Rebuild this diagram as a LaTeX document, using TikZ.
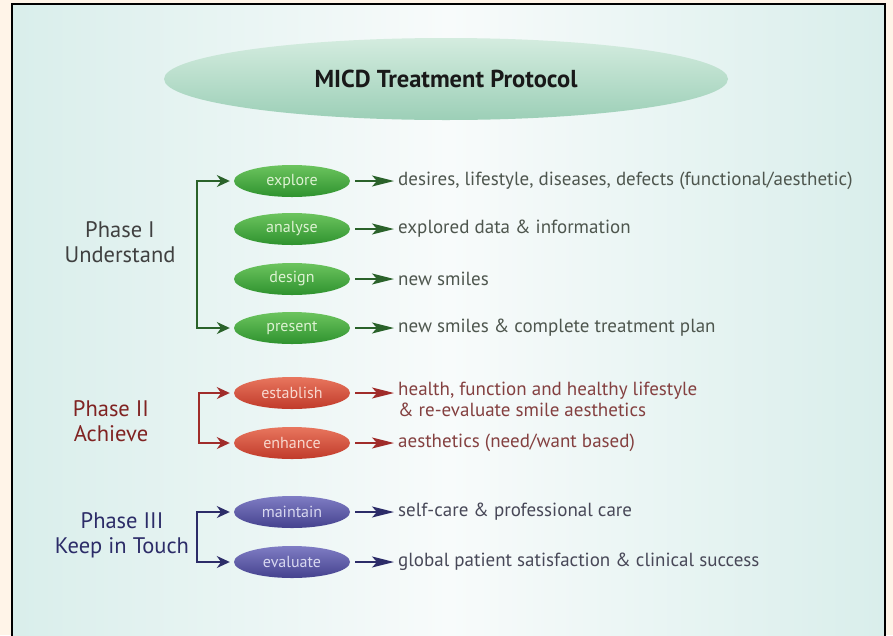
\documentclass[tikz,border=0pt]{standalone}
\usepackage{fontspec}
\setmainfont{PT Sans}
\usetikzlibrary{shapes.geometric,arrows.meta,positioning}

\definecolor{cream}{HTML}{FFF4E8}
\definecolor{panelteal}{HTML}{D9EEEB}
\definecolor{panelwhite}{HTML}{F8FBFB}
\definecolor{titletop}{HTML}{D4ECDF}
\definecolor{titlebot}{HTML}{9CCFB7}
\definecolor{greentop}{HTML}{6CC45E}
\definecolor{greenbot}{HTML}{2E922E}
\definecolor{greentext}{HTML}{DDF2D2}
\definecolor{greenline}{HTML}{2A622A}
\definecolor{greendesc}{HTML}{4E564E}
\definecolor{redtop}{HTML}{E8765E}
\definecolor{redbot}{HTML}{C03A2A}
\definecolor{redtext}{HTML}{F8D8CE}
\definecolor{redline}{HTML}{A02C2A}
\definecolor{reddesc}{HTML}{844040}
\definecolor{bluetop}{HTML}{7F7DC4}
\definecolor{bluebot}{HTML}{45428E}
\definecolor{bluetext}{HTML}{D8D8F0}
\definecolor{blueline}{HTML}{2C2C68}
\definecolor{bluedesc}{HTML}{484858}

\tikzset{
  stepnode/.style={ellipse, minimum width=116pt, minimum height=32pt, inner sep=0pt,
    font=\fontsize{16}{18}\selectfont},
  greenstep/.style={stepnode, top color=greentop, bottom color=greenbot, text=greentext},
  redstep/.style={stepnode, top color=redtop, bottom color=redbot, text=redtext},
  bluestep/.style={stepnode, top color=bluetop, bottom color=bluebot, text=bluetext},
  desc/.style={anchor=west, inner sep=0pt, align=left, font=\fontsize{19}{21}\selectfont},
  phase/.style={align=center, font=\fontsize{22.5}{25}\selectfont},
  outarrow/.style={-{Stealth[length=22pt,width=11pt,inset=5pt]}, line width=1.6pt,
    shorten <=5pt, shorten >=4pt},
  bracket/.style={{Stealth[length=13pt,width=12pt]}-{Stealth[length=13pt,width=12pt]},
    line width=1.5pt, shorten <=4pt, shorten >=4pt}
}

\begin{document}
\begin{tikzpicture}[x=1pt, y=-1pt]
  \useasboundingbox (0,0) rectangle (893,635);

  % Background and panel
  \fill[cream] (0,0) rectangle (893,635);
  \shade[left color=panelteal, right color=panelteal, middle color=panelwhite]
    (12,4) rectangle (885,640);
  \draw[line width=1.5pt] (12,640) -- (12,4) -- (885,4) -- (885,640);

  % Title
  \node[ellipse, minimum width=564pt, minimum height=82pt, inner sep=0pt,
    top color=titletop, bottom color=titlebot, text=black!90,
    font=\fontsize{24.5}{30}\selectfont\bfseries] (title) at (446,79) {MICD Treatment Protocol};

  % Phase I
  \node[phase, text=black!75] (phase1) at (120,242) {Phase I\\Understand};
  \node[greenstep] (explore) at (292,181) {explore};
  \node[greenstep] (analyse) at (292,229) {analyse};
  \node[greenstep] (design) at (292,279) {design};
  \node[greenstep] (present) at (292,328) {present};
  \draw[bracket, greenline] (explore.west) -- ++(-37,0) |- (present.west);

  \node[desc, text=greendesc] (explore-txt) at (398,181) {desires, lifestyle, diseases, defects (functional/aesthetic)};
  \node[desc, text=greendesc] (analyse-txt) at (398,229) {explored data \& information};
  \node[desc, text=greendesc] (design-txt) at (398,279) {new smiles};
  \node[desc, text=greendesc] (present-txt) at (398,328) {new smiles \& complete treatment plan};
  \foreach \s in {explore,analyse,design,present}
    \draw[outarrow, greenline] (\s.east) -- (\s-txt.west);

  % Phase II
  \node[phase, text=redline!80!black] (phase2) at (111,421) {Phase II\\Achieve};
  \node[redstep] (establish) at (292,393) {establish};
  \node[redstep] (enhance) at (292,443) {enhance};
  \draw[bracket, redline] (establish.west) -- ++(-35,0) |- (enhance.west);

  \node[desc, text=reddesc, anchor=north west] (establish-txt) at (398,382) {health, function and healthy lifestyle\\\& re-evaluate smile aesthetics};
  \node[desc, text=reddesc] (enhance-txt) at (398,443) {aesthetics (need/want based)};
  \draw[outarrow, redline] (establish.east) -- (establish -| establish-txt.west);
  \draw[outarrow, redline] (enhance.east) -- (enhance-txt.west);

  % Phase III
  \node[phase, text=blueline] (phase3) at (122,535) {Phase III\\Keep in Touch};
  \node[bluestep] (maintain) at (292,512) {maintain};
  \node[bluestep] (evaluate) at (292,562) {evaluate};
  \draw[bracket, blueline] (maintain.west) -- ++(-37,0) |- (evaluate.west);

  \node[desc, text=bluedesc] (maintain-txt) at (398,512) {self-care \& professional care};
  \node[desc, text=bluedesc] (evaluate-txt) at (398,562) {global patient satisfaction \& clinical success};
  \draw[outarrow, blueline] (maintain.east) -- (maintain-txt.west);
  \draw[outarrow, blueline] (evaluate.east) -- (evaluate-txt.west);
\end{tikzpicture}
\end{document}
